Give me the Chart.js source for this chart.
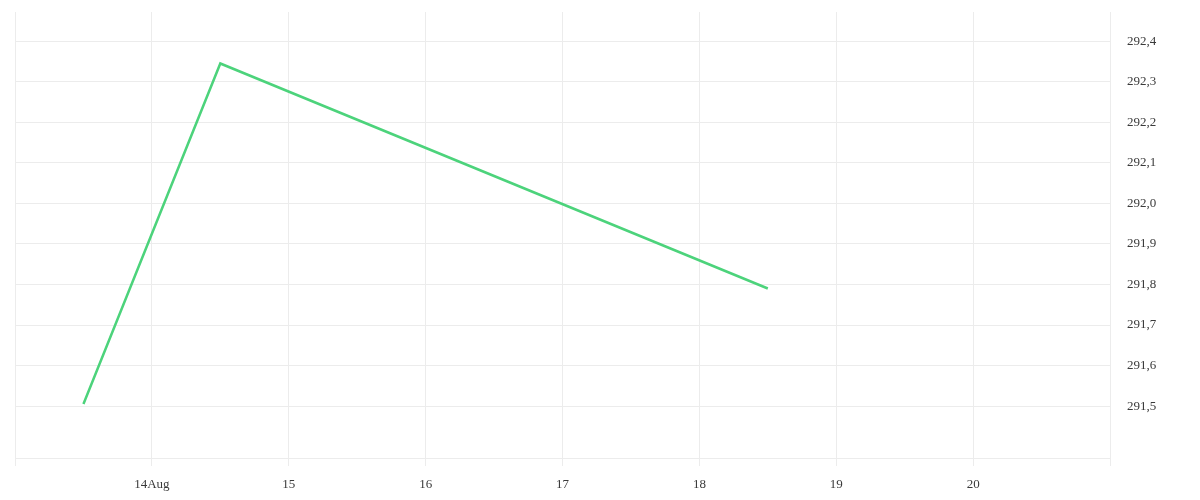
<!DOCTYPE html>
<html>
<head>
<meta charset="utf-8">
<script src="https://cdn.jsdelivr.net/npm/chart.js@4.4.0/dist/chart.umd.min.js"></script>
<style>
  html, body { margin: 0; padding: 0; background: #fff; }
  #wrap { width: 1200px; height: 500px; }
</style>
</head>
<body>
<div id="wrap"><canvas id="price"></canvas></div>
<script>
// days of August (12:00 = .5)
var days = [13.5, 14.5, 18.5];
var values = [291.505, 292.345, 291.79];
var yTicks = [291.5, 291.6, 291.7, 291.8, 291.9, 292.0, 292.1, 292.2, 292.3, 292.4];
var xTicks = [13, 14, 15, 16, 17, 18, 19, 20, 21];
var xLabels = ["", "14Aug", "15", "16", "17", "18", "19", "20", ""];

var gridColor = "#ececec";

var points = [];
for (var i = 0; i < days.length; i++) {
  points.push({ x: days[i], y: values[i] });
}

var ctx = document.getElementById("price");

var chart = new Chart(ctx, {
  type: "line",
  data: {
    datasets: [
      {
        label: "Price",
        data: points,
        borderColor: "#4cd37b",
        backgroundColor: "#4cd37b",
        borderWidth: 2.5,
        fill: false,
        tension: 0,
        pointRadius: 0
      }
    ]
  },
  options: {
    responsive: true,
    maintainAspectRatio: false,
    animation: false,
    layout: { padding: { left: 15, top: 12, right: 0, bottom: 0 } },
    plugins: {
      legend: { display: false },
      tooltip: { enabled: false }
    },
    scales: {
      x: {
        type: "linear",
        min: 13,
        max: 21,
        afterBuildTicks: function (axis) {
          axis.ticks = xTicks.map(function (v) { return { value: v }; });
        },
        afterFit: function (axis) {
          axis.height = 42;
          axis.paddingLeft = 0;
          axis.paddingRight = 0;
        },
        grid: { color: gridColor, tickLength: 8 },
        border: { color: gridColor },
        ticks: {
          padding: 11,
          maxRotation: 0,
          autoSkip: false,
          color: "#3a3a3a",
          font: { family: "Liberation Serif", size: 13 },
          callback: function (v) {
            var k = xTicks.indexOf(v);
            return k >= 0 ? xLabels[k] : "";
          }
        }
      },
      y: {
        position: "right",
        min: 291.372,
        max: 292.472,
        afterBuildTicks: function (axis) {
          axis.ticks = yTicks.map(function (v) { return { value: v }; });
        },
        afterFit: function (axis) {
          axis.width = 90;
          axis.paddingTop = 0;
          axis.paddingBottom = 0;
        },
        grid: { color: gridColor, drawTicks: false },
        border: { color: gridColor },
        ticks: {
          padding: 17,
          color: "#3a3a3a",
          font: { family: "Liberation Serif", size: 13 },
          callback: function (v) {
            return v.toFixed(1).replace(".", ",");
          }
        }
      }
    }
  }
});
</script>
</body>
</html>
